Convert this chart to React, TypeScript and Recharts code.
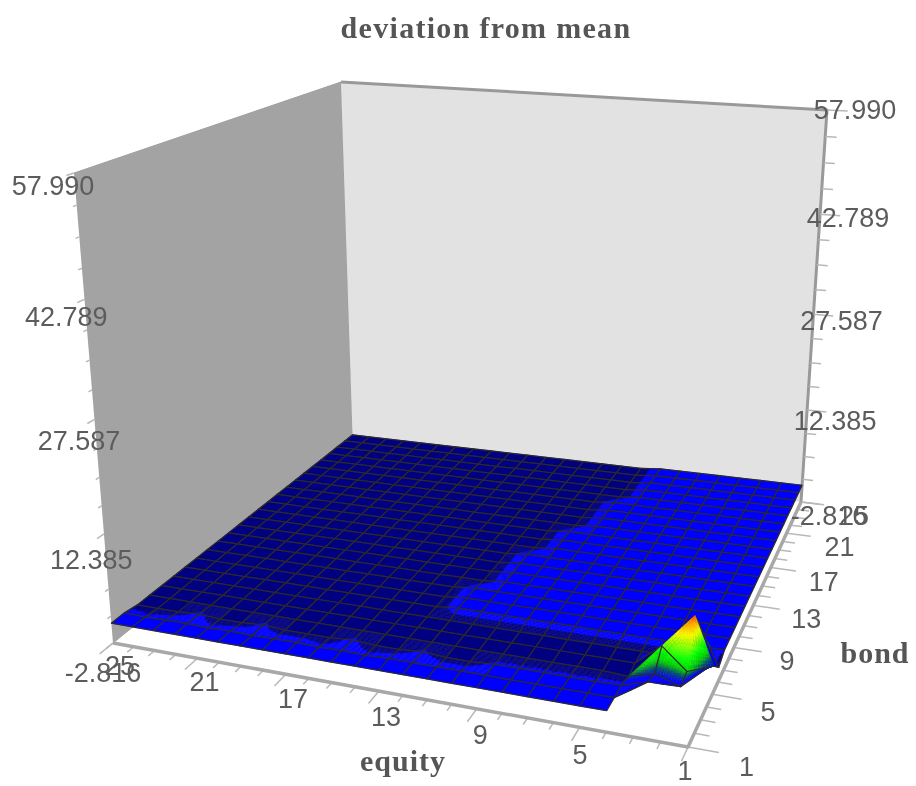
import { ScatterChart, Scatter, XAxis, YAxis } from 'recharts'

const W = 916
const H = 786
const SANS = '"Liberation Sans", Arial, sans-serif'
const SERIF = '"Liberation Serif", "Times New Roman", serif'

const equityTicks = [25, 21, 17, 13, 9, 5, 1]
const bondTicks = [25, 21, 17, 13, 9, 5, 1]
const minorTicks = [2, 3, 4, 6, 7, 8, 10, 11, 12, 14, 15, 16, 18, 19, 20, 22, 23, 24]
const zTicks = [57.99, 42.789, 27.587, 12.385, -2.816]
const zLabels = ['57.990', '42.789', '27.587', '12.385', '-2.816']
const title = 'deviation from mean'

// surface heights, one row per bond value 1..25, columns are equity 1..25
const X = null
const n = -0.3
const b = 0
const m = -0.1
const surface: (number | null)[][] = [
  [X, X, X, b, b, b, b, b, b, b, b, b, b, b, b, b, b, b, b, b, b, b, b, b, b],
  [X, X, X, b, b, b, b, b, b, b, b, b, b, m, b, m, b, b, m, b, m, b, b, m, b],
  [X, X, 1, b, m, m, m, m, m, n, n, m, n, n, m, n, n, n, m, n, n, m, n, n, n],
  [2.5, -0.7, 0.5, -0.5, n, n, n, n, n, n, n, n, n, n, n, n, n, n, n, n, n, n, n, n, n],
  [1, -0.3, 2.6, n, n, n, n, n, n, n, n, n, n, n, n, n, n, n, n, n, n, n, n, n, n],
  [-0.8, 5.7, n, n, n, n, n, n, n, n, n, n, n, n, n, n, n, n, n, n, n, n, n, n, n],
  [b, b, b, b, b, b, b, b, b, b, b, b, n, n, n, n, n, n, n, n, n, n, n, n, n],
  [b, b, b, b, b, b, b, b, b, b, b, b, n, n, n, n, n, n, n, n, n, n, n, n, n],
  [b, b, b, b, b, b, b, b, b, b, b, b, n, n, n, n, n, n, n, n, n, n, n, n, n],
  [b, b, b, b, b, b, b, b, b, b, b, n, n, n, n, n, n, n, n, n, n, n, n, n, n],
  [b, b, b, b, b, b, b, b, b, b, b, n, n, n, n, n, n, n, n, n, n, n, n, n, n],
  [b, b, b, b, b, b, b, b, b, b, b, n, n, n, n, n, n, n, n, n, n, n, n, n, n],
  [b, b, b, b, b, b, b, b, b, b, b, n, n, n, n, n, n, n, n, n, n, n, n, n, n],
  [b, b, b, b, b, b, b, b, b, b, n, n, n, n, n, n, n, n, n, n, n, n, n, n, n],
  [b, b, b, b, b, b, b, b, b, b, n, n, n, n, n, n, n, n, n, n, n, n, n, n, n],
  [b, b, b, b, b, b, b, b, b, b, n, n, n, n, n, n, n, n, n, n, n, n, n, n, n],
  [b, b, b, b, b, b, b, b, b, n, n, n, n, n, n, n, n, n, n, n, n, n, n, n, n],
  [b, b, b, b, b, b, b, b, b, n, n, n, n, n, n, n, n, n, n, n, n, n, n, n, n],
  [b, b, b, b, b, b, b, b, b, n, n, n, n, n, n, n, n, n, n, n, n, n, n, n, n],
  [b, b, b, b, b, b, b, b, b, n, n, n, n, n, n, n, n, n, n, n, n, n, n, n, n],
  [b, b, b, b, b, b, b, b, n, n, n, n, n, n, n, n, n, n, n, n, n, n, n, n, n],
  [b, b, b, b, b, b, b, b, n, n, n, n, n, n, n, n, n, n, n, n, n, n, n, n, n],
  [b, b, b, b, b, b, b, b, n, n, n, n, n, n, n, n, n, n, n, n, n, n, n, n, n],
  [b, b, b, b, b, b, b, b, n, n, n, n, n, n, n, n, n, n, n, n, n, n, n, n, n],
  [b, b, b, b, b, b, b, b, n, n, n, n, n, n, n, n, n, n, n, n, n, n, n, n, n],
]

// colour values of the spike, bond 3..6 against equity 1..4
const peakShade: (number | null)[][] = [
  [X, X, 0.6, 0.3],
  [0.6, 0.6, 1.2, 1.7],
  [1.0, 2.3, 3.4, n],
  [0.5, 5.6, n, n],
]
// cells of the spike folded along one diagonal: equity, bond, near corners, far corners, far colour value
const foldCells: [number, number, number[], number[], number][] = [
  [3, 4, [0, 1, 3], [1, 2, 3], n],
  [2, 5, [0, 1, 3], [1, 2, 3], b],
  [1, 5, [0, 1, 2], [0, 2, 3], b],
]

const colorStops: [number, number[]][] = [
  [0.95, [0, 0, 255]],
  [1.6, [0, 70, 110]],
  [2.2, [0, 200, 0]],
  [2.9, [0, 255, 0]],
  [4.3, [255, 255, 0]],
  [5.2, [255, 140, 0]],
  [5.7, [240, 70, 0]],
]

function colorFor(z: number) {
  if (z < -0.15) return '#000080'
  if (z <= colorStops[0][0]) return '#0000ff'
  for (let i = 1; i < colorStops.length; i++) {
    const [z1, c1] = colorStops[i]
    const [z0, c0] = colorStops[i - 1]
    if (z <= z1) {
      const t = (z - z0) / (z1 - z0)
      return `rgb(${c0.map((c, k) => Math.round(c + (c1[k] - c) * t)).join(',')})`
    }
  }
  return 'rgb(240,70,0)'
}

// box corners as seen on the picture, used to set up the camera
const L = [113, 643]
const F = [688, 747]
const R = [801, 502]
const B = [353, 449]
const topL = [74, 173]
const topB = [341, 82]
const topR = [827, 110]

const zMin = -2.816
const zMax = 57.99

const den = (F[0] - R[0]) * (B[1] - R[1]) - (B[0] - R[0]) * (F[1] - R[1])
const sx = L[0] - F[0] + R[0] - B[0]
const sy = L[1] - F[1] + R[1] - B[1]
const g = (sx * (B[1] - R[1]) - (B[0] - R[0]) * sy) / den
const h = ((F[0] - R[0]) * sy - sx * (F[1] - R[1])) / den
const ha = F[0] - L[0] + g * F[0]
const hb = B[0] - L[0] + h * B[0]
const hd = F[1] - L[1] + g * F[1]
const he = B[1] - L[1] + h * B[1]

function floorH(u: number, v: number) {
  const s = (25 - u) / 24
  const t = (v - 1) / 24
  return [ha * s + hb * t + L[0], hd * s + he * t + L[1], g * s + h * t + 1]
}

function solve3(m3: number[][], r: number[]) {
  const a = m3.map((row, i) => [...row, r[i]])
  for (let i = 0; i < 3; i++) {
    let p = i
    for (let j = i + 1; j < 3; j++) if (Math.abs(a[j][i]) > Math.abs(a[p][i])) p = j
    ;[a[i], a[p]] = [a[p], a[i]]
    for (let j = 0; j < 3; j++) {
      if (j === i) continue
      const f = a[j][i] / a[i][i]
      for (let k = i; k < 4; k++) a[j][k] -= f * a[i][k]
    }
  }
  return [a[0][3] / a[0][0], a[1][3] / a[1][1], a[2][3] / a[2][2]]
}

function fitVertical() {
  const rows: number[][] = []
  const rhs: number[] = []
  const tops: [number, number, number[]][] = [[25, 1, topL], [25, 25, topB], [1, 25, topR]]
  tops.forEach(([u, v, p]) => {
    const q = floorH(u, v)
    rows.push([1, 0, -p[0]])
    rhs.push(p[0] * q[2] - q[0])
    rows.push([0, 1, -p[1]])
    rhs.push(p[1] * q[2] - q[1])
  })
  const ata = [0, 1, 2].map(i => [0, 1, 2].map(j => rows.reduce((s, r) => s + r[i] * r[j], 0)))
  const atb = [0, 1, 2].map(i => rows.reduce((s, r, k) => s + r[i] * rhs[k], 0))
  return solve3(ata, atb)
}
const vert = fitVertical()

function rawProject(u: number, v: number, z: number) {
  const q = floorH(u, v)
  const zn = (z - zMin) / (zMax - zMin)
  const w = q[2] + zn * vert[2]
  return [(q[0] + zn * vert[0]) / w, (q[1] + zn * vert[1]) / w]
}

// what the camera fit leaves over at the three top corners
const miss = (p: number[], u: number, v: number) => {
  const q = rawProject(u, v, zMax)
  return [p[0] - q[0], p[1] - q[1]]
}
const missL = miss(topL, 25, 1)
const missB = miss(topB, 25, 25)
const missR = miss(topR, 1, 25)

function project(u: number, v: number, z: number) {
  const q = rawProject(u, v, z)
  const zn = (z - zMin) / (zMax - zMin)
  const s = (25 - u) / 24
  const t = (v - 1) / 24
  return [0, 1].map(k => q[k] + zn * (missL[k] + t * (missB[k] - missL[k]) + s * (missR[k] - missB[k])))
}

type Poly = { pts: number[][]; fill?: string; stroke?: string; sw?: number }
type Mark = { px: number; py: number; polys: Poly[] }

function toMark(polys: Poly[]): Mark {
  const [px, py] = polys[0].pts[0]
  return { px, py, polys }
}

const wallLeft = toMark([{
  pts: [project(25, 1, zMin), project(25, 25, zMin), project(25, 25, zMax), project(25, 1, zMax)],
  fill: '#a3a3a3',
  stroke: '#a0a0a0',
  sw: 1,
}])
const wallBack = toMark([
  {
    pts: [project(25, 25, zMin), project(1, 25, zMin), project(1, 25, zMax), project(25, 25, zMax)],
    fill: '#e2e2e2',
  },
  { pts: [project(25, 25, zMax), project(1, 25, zMax), project(1, 25, zMin)], stroke: '#999999', sw: 3 },
])
const axisLines = toMark([
  { pts: [project(25, 1, zMin), project(1, 1, zMin), project(1, 25, zMin)], stroke: '#a8a8a8', sw: 3.5 },
])

const tickMarks: Mark[] = []
const tickColor = '#b8b8b8'
const tick = (a: number[], c: number[]) => tickMarks.push(toMark([{ pts: [a, c], stroke: tickColor, sw: 1.5 }]))
equityTicks.forEach(u => tick(project(u, 1, zMin), project(u, 0, zMin)))
minorTicks.forEach(u => tick(project(u, 1, zMin), project(u, 0.5, zMin)))
bondTicks.forEach(v => tick(project(1, v, zMin), project(-0.1, v, zMin)))
minorTicks.forEach(v => tick(project(1, v, zMin), project(0.45, v, zMin)))
zTicks.forEach((z, i) => {
  tick(project(1, 25, z), project(0.1, 25, z))
  tick(project(25, 1, z), project(25, 0.5, z))
  if (i === zTicks.length - 1) return
  for (let k = 1; k < 4; k++) {
    const zm = z + ((zTicks[i + 1] - z) * k) / 4
    tick(project(1, 25, zm), project(0.5, 25, zm))
    tick(project(25, 1, zm), project(25, 0.75, zm))
  }
})

type Node = number[] // equity, bond, height, colour value

function shadeAt(u: number, v: number, cellU: number, cellV: number) {
  const z = surface[v - 1][u - 1] as number
  if (cellU > 3 || cellV < 3 || cellV > 5) return z
  const s = peakShade[v - 3]?.[u - 1]
  return s === null || s === undefined ? z : s
}

function fillCell(corners: Node[], polys: Poly[], outline = true) {
  const colors = new Set(corners.map(c => colorFor(c[3])))
  const steps = colors.size === 1 ? 1 : 10
  const at = (i: number, j: number) => {
    const a = i / steps
    const c = j / steps
    return [0, 1, 2, 3].map(
      k => corners[0][k] * (1 - a) * (1 - c) + corners[1][k] * a * (1 - c) + corners[2][k] * a * c + corners[3][k] * (1 - a) * c,
    )
  }
  for (let j = steps - 1; j >= 0; j--) {
    for (let i = steps - 1; i >= 0; i--) {
      const q = [at(i, j), at(i + 1, j), at(i + 1, j + 1), at(i, j + 1)]
      const fill = colorFor(q.reduce((s, c) => s + c[3], 0) / 4)
      polys.push({ pts: q.map(c => project(c[0], c[1], c[2])), fill, stroke: fill, sw: 0.6 })
    }
  }
  if (outline) polys.push({ pts: [...corners, corners[0]].map(c => project(c[0], c[1], c[2])), stroke: '#2c2a2c', sw: 1.25 })
}

// a triangle is a quad with its fourth corner halfway along the closing side
function triangle(a: Node, c: Node, d: Node): Node[] {
  return [a, c, d, a.map((x, k) => (x + d[k]) / 2)]
}

// painter's order: far corner first
function buildSurface() {
  const marks: Mark[] = []
  for (let v = 24; v >= 1; v--) {
    for (let u = 24; u >= 1; u--) {
      const uv = [[u, v], [u + 1, v], [u + 1, v + 1], [u, v + 1]]
      const raw = uv.map(([a, c]) => surface[c - 1][a - 1])
      const missing = raw.filter(z => z === null).length
      if (missing > 1) continue
      const corners: Node[] = raw.map((z, i) => (z === null ? [] : [uv[i][0], uv[i][1], z, shadeAt(uv[i][0], uv[i][1], u, v)]))
      const gap = raw.indexOf(null)
      if (gap >= 0) {
        const p = corners[(gap + 1) % 4]
        const q = corners[(gap + 3) % 4]
        corners[gap] = p.map((x, k) => (x + q[k]) / 2)
      }
      const polys: Poly[] = []
      const fold = foldCells.find(f => f[0] === u && f[1] === v)
      if (fold) {
        const far = fold[3].map(i => [...corners[i].slice(0, 3), fold[4]])
        const near = fold[2].map(i => corners[i])
        fillCell(triangle(far[0], far[1], far[2]), polys)
        fillCell(triangle(near[0], near[1], near[2]), polys, false)
      } else {
        fillCell(corners, polys)
      }
      marks.push(toMark(polys))
    }
  }
  return marks
}
const surfaceMarks = buildSurface()

type Label = { px: number; py: number; text: string; size: number; bold: boolean; spacing: number }
const labels: Label[] = []
function addLabel(p: number[], dx: number, dy: number, text: string) {
  labels.push({ px: p[0] + dx, py: p[1] + dy, text, size: 27, bold: false, spacing: 0 })
}
equityTicks.forEach(u => {
  const f = (u - 1) / 24
  const p = project(u, 1, zMin)
  // the last label sits right on the bottom edge of the page
  addLabel(p, Math.min(7, -3 + 20 * f), Math.min(771 - p[1], 28 - 5 * f), String(u))
})
bondTicks.forEach(v => {
  const near = Math.max(0, 9 - v)
  addLabel(project(1, v, zMin), 53 + 0.7 * near, 14 + 0.8 * near, String(v))
})
zLabels.forEach((t, i) => {
  const f = i / 4
  addLabel(project(25, 1, zTicks[i]), -21 + 11 * f, 13 + 17 * f, t)
  addLabel(project(1, 25, zTicks[i]), 28, 14 * f * f + 14 * f * (1 - f), t)
})
labels.push({ px: 486, py: 27, text: title, size: 30, bold: true, spacing: 1.3 })
labels.push({ px: 403, py: 760, text: 'equity', size: 30, bold: true, spacing: 1 })
labels.push({ px: 875, py: 652, text: 'bond', size: 30, bold: true, spacing: 1 })

const PolyShape = (props: any) => {
  const { cx, cy, payload } = props
  const ox = cx - payload.px
  const oy = cy - payload.py
  return (
    <g>
      {payload.polys.map((p: Poly, i: number) => (
        <polyline
          key={i}
          points={p.pts.map(c => `${c[0] + ox},${c[1] + oy}`).join(' ')}
          fill={p.fill ?? 'none'}
          stroke={p.stroke ?? 'none'}
          strokeWidth={p.sw ?? 0}
          strokeLinejoin="round"
        />
      ))}
    </g>
  )
}

const TextShape = (props: any) => {
  const { cx, cy, payload } = props
  return (
    <text
      x={cx}
      y={cy}
      textAnchor="middle"
      dominantBaseline="central"
      fontFamily={payload.bold ? SERIF : SANS}
      fontWeight={payload.bold ? 700 : 400}
      fontSize={payload.size}
      letterSpacing={payload.spacing}
      fill={payload.bold ? '#555555' : '#5c5c5c'}
    >
      {payload.text}
    </text>
  )
}

export default function App() {
  return (
    <div style={{ position: 'absolute', left: 0, top: 0, width: W, height: H, filter: 'blur(0.5px)' }}>
      <ScatterChart width={W} height={H} margin={{ top: 0, right: 0, bottom: 0, left: 0 }}>
        <XAxis type="number" dataKey="px" domain={[0, W]} hide />
        <YAxis type="number" dataKey="py" domain={[0, H]} reversed hide />
        <Scatter data={[wallLeft, wallBack]} shape={PolyShape} isAnimationActive={false} />
        <Scatter data={tickMarks} shape={PolyShape} isAnimationActive={false} />
        <Scatter data={[axisLines]} shape={PolyShape} isAnimationActive={false} />
        <Scatter data={surfaceMarks} shape={PolyShape} isAnimationActive={false} />
        <Scatter data={labels} shape={TextShape} isAnimationActive={false} />
      </ScatterChart>
    </div>
  )
}
